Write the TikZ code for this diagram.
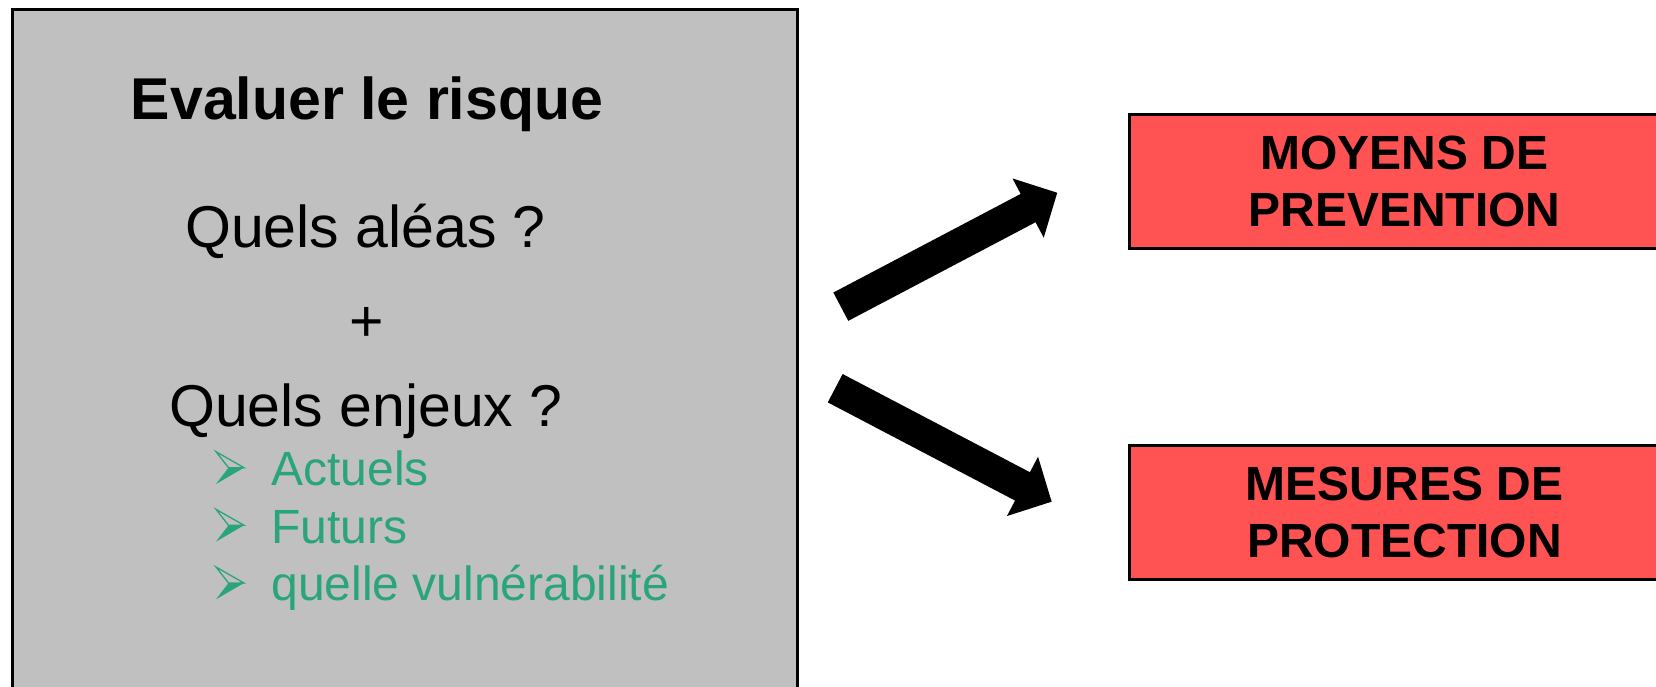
\documentclass[tikz,border=0pt]{standalone}
\usepackage{fontspec}
\setmainfont{Liberation Sans}
\usetikzlibrary{arrows.meta}
\definecolor{boxgray}{RGB}{192,192,192}
\definecolor{boxred}{RGB}{255,82,82}
\definecolor{bulgreen}{RGB}{42,165,122}
\tikzset{
  bul/.pic={
    \draw[bulgreen, line width=1.3pt, line join=miter] (-28,-16) -- (0,0) -- (-15.5,0) -- cycle;
    \fill[bulgreen] (-15.5,0) -- (0,0) -- (-28,16.3) -- cycle;
  }
}
\begin{document}
\begin{tikzpicture}[x=1pt,y=-1pt,
  every node/.style={inner sep=0pt, outer sep=0pt},
  evalbox/.style={draw=black, line width=3pt, fill=boxgray, rectangle, minimum width=785.5pt, minimum height=711pt},
  redbox/.style={draw=black, line width=3pt, fill=boxred, rectangle, minimum width=550.6pt, minimum height=134pt, align=center, font=\fontsize{48}{57}\selectfont\bfseries},
  titletxt/.style={anchor=base, font=\fontsize{59}{70}\selectfont\bfseries},
  bigtxt/.style={anchor=base, font=\fontsize{59}{70}\selectfont},
  itemtxt/.style={anchor=base west, text=bulgreen, font=\fontsize{48}{57}\selectfont},
  bigarrow/.style={line width=32pt, -{Triangle[width=65pt,length=33pt]}}
]
\useasboundingbox (0,0) rectangle (1656,686);
\fill[white] (0,0) rectangle (1656,686);

% left box
\node[evalbox] (eval) at (404.75,364.5) {};
\node[titletxt] (title) at (367,119) {Evaluer le risque};
\node[bigtxt] (aleas) at (365.5,247) {Quels aléas ?};
\node[bigtxt] (plus) at (367,341.5) {+};
\node[bigtxt] (enjeux) at (366,426) {Quels enjeux ?};

\pic at (244,467.7) {bul};
\pic at (244,525.3) {bul};
\pic at (244,583) {bul};
\node[itemtxt] (actuels) at (271.5,485) {Actuels};
\node[itemtxt] (futurs) at (271.5,543) {Futurs};
\node[itemtxt] (vuln) at (271.5,600.5) {quelle vulnérabilité};

% right boxes
\node[redbox] (prev) at (1404.5,181.6) {MOYENS DE\\PREVENTION};
\node[redbox] (prot) at (1404.5,512.7) {MESURES DE\\PROTECTION};

% arrows
\coordinate (upS) at (840.8,306.7);
\coordinate (upE) at (1057.3,192.7);
\coordinate (dnS) at (835.2,388.2);
\coordinate (dnE) at (1051.7,501.7);
\draw[bigarrow] (upS) -- (upE);
\draw[bigarrow] (dnS) -- (dnE);
\end{tikzpicture}
\end{document}
